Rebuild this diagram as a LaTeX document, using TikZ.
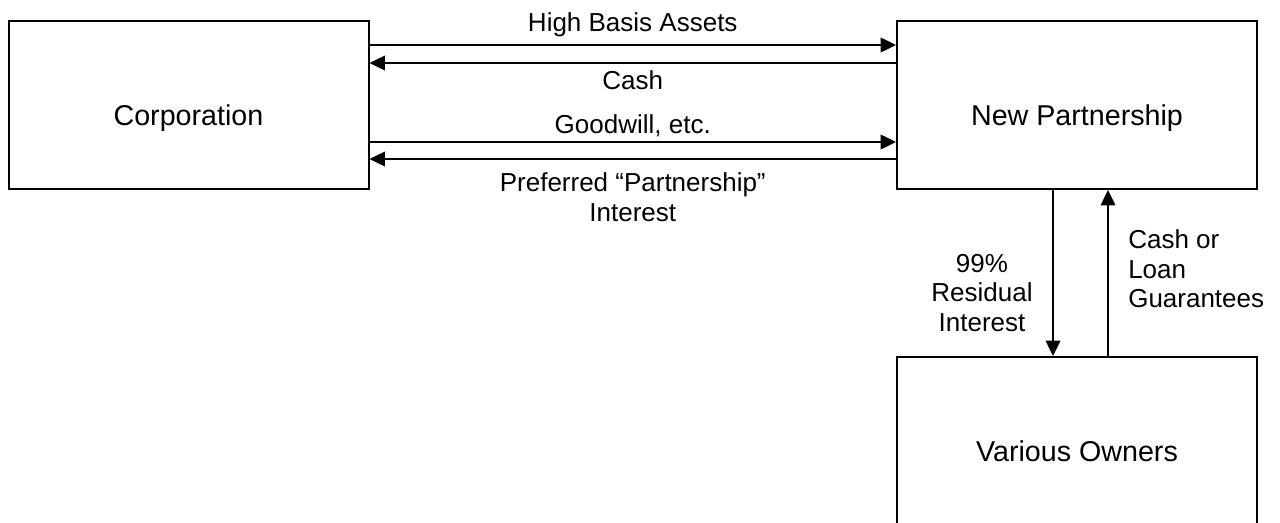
\documentclass[tikz,border=0pt]{standalone}
\usepackage{fontspec}
\setmainfont{Liberation Sans}
\usetikzlibrary{arrows.meta}

\begin{document}
\begin{tikzpicture}
% Partnership structure diagram, laid out on a pixel grid
\def\px{0.75pt}
\providecommand{\flowBoxLineWidth}{1.5pt}
\providecommand{\flowArrowLineWidth}{1pt}
\providecommand{\flowBoxFont}{\fontsize{21.5}{25}\selectfont}
\providecommand{\flowTextFont}{\fontsize{19.5}{22}\selectfont}
\begin{scope}[x=\px, y=-\px,
  entity/.style={draw=black, line width=\flowBoxLineWidth, minimum width=270pt, minimum height=126pt, font=\flowBoxFont, inner sep=0pt, text height=30pt, text depth=0pt},
  flow/.style={draw=black, line width=\flowArrowLineWidth, -{Triangle[length=11.5pt, width=11pt]}},
  flowlabel/.style={font=\flowTextFont, align=center, inner sep=0pt}]
  % Page frame
  \useasboundingbox (0,0) rectangle (1280,522);
  \clip (0,0) rectangle (1280,522);
  % Entities
  \node[entity] (corp) at (188.5,105) {Corporation};
  \node[entity] (np) at (1077,105) {New Partnership};
  \node[entity] (vo) at (1077,441) {Various Owners};
  % Transfers between corporation and partnership
  \draw[flow] ([yshift=45pt]corp.east) -- node[flowlabel, above=5.5pt] (hbalbl) {High Basis Assets} ([yshift=45pt]np.west);
  \draw[flow] ([yshift=31.5pt]np.west) -- node[flowlabel, below=5pt] (cashlbl) {Cash} ([yshift=31.5pt]corp.east);
  \draw[flow] ([yshift=-27.75pt]corp.east) -- node[flowlabel, above=3.5pt] (gwlbl) {Goodwill, etc.} ([yshift=-27.75pt]np.west);
  \draw[flow] ([yshift=-40.5pt]np.west) -- node[flowlabel, below=10pt] (preflbl) {Preferred “Partnership”\\Interest} ([yshift=-40.5pt]corp.east);
  % Transfers between partnership and owners
  \draw[flow] ([xshift=-18pt]np.south) -- ([xshift=-18pt]vo.north);
  \draw[flow] ([xshift=23.25pt]vo.north) -- ([xshift=23.25pt]np.south);
  \node[flowlabel] (residlbl) at (982,293) {99\%\\Residual\\Interest};
  \node[flowlabel, align=left, anchor=west] (guarlbl) at (1128,269) {Cash or\\Loan\\Guarantees};
\end{scope}
\end{tikzpicture}
\end{document}
